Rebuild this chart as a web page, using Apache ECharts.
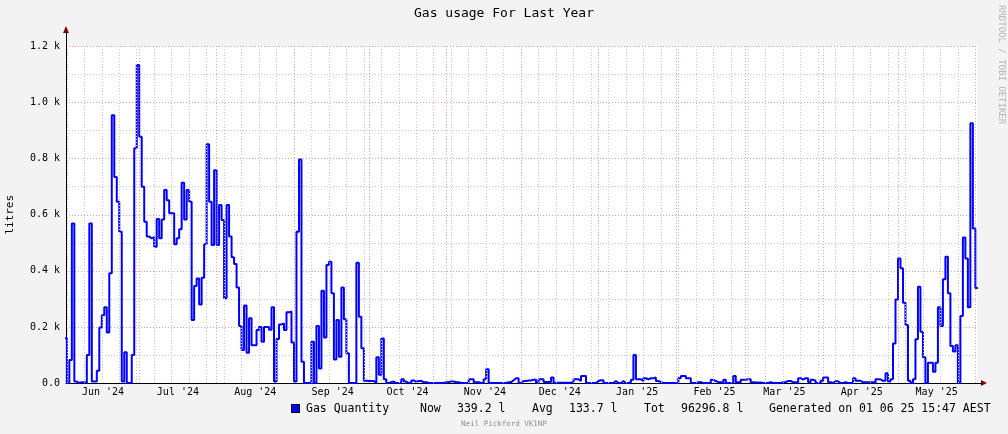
<!DOCTYPE html>
<html><head><meta charset="utf-8">
<script src="https://cdn.jsdelivr.net/npm/echarts@6/dist/echarts.min.js"></script>
<style>html,body{margin:0;padding:0;background:#f3f3f3;}#c{width:1008px;height:434px;}</style>
</head><body><div id="c"></div>
<script>
// Daily gas usage (litres), one value per day, day 0 = 1 Jun 2024
const jun24 = [160,0,82,569,5,0,3,3,0,100,569,5,5,44,198,242,270,180,391,955,735,646,539,5,110,0,0,100,837,1134];
const jul24 = [878,700,575,522,516,520,486,585,516,583,688,652,605,605,495,516,548,714,583,688,646,225,346,373,280,375,495,851,646,492,759];
const aug24 = [492,635,581,302,635,522,448,424,341,203,118,276,108,231,135,135,189,200,147,200,200,190,270,5,157,209,212,189,252,255,144];
const sep24 = [5,539,797,76,0,0,0,147,0,203,52,329,162,421,432,320,84,225,94,341,227,106,0,0,0,429,236,124,8,7];
const oct24 = [7,7,0,92,29,159,13,0,3,5,0,0,0,13,5,0,0,9,4,7,7,3,3,0,0,0,0,0,0,0,3];
const nov24 = [3,5,5,3,3,0,0,0,0,13,13,3,3,0,0,13,49,0,0,0,0,0,0,0,3,3,10,17,17,0];
const dec24 = [7,7,9,9,12,12,0,13,13,4,4,4,20,1,1,1,1,1,1,1,3,13,13,7,25,25,0,0,0,0,7];
const jan25 = [10,10,0,0,0,0,7,0,0,7,0,0,3,12,100,13,13,7,17,13,17,17,20,7,3,0,0,0,0,0,0];
const feb25 = [0,17,25,25,17,17,0,0,3,3,0,0,0,0,12,7,3,3,0,12,0,0,0,25,3,3,12,12];
const mar25 = [13,13,3,2,2,2,0,0,0,3,0,0,0,0,3,3,7,7,3,3,0,17,12,17,17,3,12,8,0,0,8];
const apr25 = [20,20,3,0,6,6,0,0,3,0,0,0,17,8,8,3,3,3,3,3,0,13,13,8,8,35,5,13,141,298];
const may25 = [444,409,286,207,8,0,13,156,343,183,92,0,72,72,40,72,270,203,370,450,320,132,112,135,0,239,519,444,270,926,551];
const jun25 = [339.2];

const monthStartDays = [0,30,61,92,122,153,183,214,245,273,304,334,365];
const monthLabels = ["Jun '24","Jul '24","Aug '24","Sep '24","Oct '24","Nov '24","Dec '24","Jan '25","Feb '25","Mar '25","Apr '25","May '25"];
const yTickLabels = ["0.0","0.2 k","0.4 k","0.6 k","0.8 k","1.0 k","1.2 k"];
const firstSunday = 1;
const viewStart = 0.658, viewEnd = 365.658;

const legendItems = [
  {t:"Gas Quantity", x:306},
  {t:"Now", x:420},
  {t:"339.2 l", x:457},
  {t:"Avg", x:532},
  {t:"133.7 l", x:569},
  {t:"Tot", x:644},
  {t:"96296.8 l", x:681},
  {t:"Generated on 01 06 25 15:47 AEST", x:769}
];

const allDays = [].concat(jun24,jul24,aug24,sep24,oct24,nov24,dec24,jan25,feb25,mar25,apr25,may25,jun25);
const pts = allDays.map((v,i)=>[i,v]);
pts.push([allDays.length, allDays[allDays.length-1]]);

const mono = "'DejaVu Sans Mono', monospace";
const gridLines = [];
for (let d = firstSunday; d <= 365; d += 7) {
  if (monthStartDays.indexOf(d) < 0) gridLines.push({xAxis:d, lineStyle:{color:'#c8c8c8', type:[1,2], width:1}});
}
monthStartDays.slice(1).forEach(d=>gridLines.push({xAxis:d, lineStyle:{color:'rgba(225,90,90,0.6)', type:[1,2], width:1}}));

const labelPos = monthStartDays.slice(0,12).map(d=>d+15.5);

const graphics = [
  {type:'rect', shape:{x:291.5,y:404.5,width:8,height:8}, style:{fill:'#0000ff', stroke:'#000', lineWidth:1}},
  ...legendItems.map(it=>({type:'text', x:it.x, y:409, style:{text:it.t, font:"11.5px 'DejaVu Sans Mono'", fill:'#000', textVerticalAlign:'middle'}})),
  {type:'text', x:504, y:424, style:{text:'Neil Pickford VK1NP', font:"7.5px 'DejaVu Sans Mono'", fill:'#909090', textAlign:'center', textVerticalAlign:'middle'}},
  {type:'text', x:1001, y:5, rotation:-Math.PI/2, style:{text:'RRDTOOL / TOBI OETIKER', font:"9px 'DejaVu Sans Mono'", fill:'#b4b4b4', textAlign:'left', textVerticalAlign:'middle'}},
  {type:'polygon', shape:{points:[[981,380],[987,383],[981,386]]}, style:{fill:'#8b0000'}},
  {type:'polygon', shape:{points:[[63,33],[66,26],[69,33]]}, style:{fill:'#8b0000'}},
  {type:'line', shape:{x1:977,y1:383.5,x2:982,y2:383.5}, style:{stroke:'#000',lineWidth:1}},
  {type:'line', shape:{x1:66.5,y1:46,x2:66.5,y2:32}, style:{stroke:'#000',lineWidth:1}}
];

const chart = echarts.init(document.getElementById('c'), null, {renderer:'canvas', width:1008, height:434});
chart.setOption({
  animation:false,
  backgroundColor:'#f3f3f3',
  title:{text:'Gas usage For Last Year', left:'center', top:7, padding:0, textStyle:{fontFamily:mono, fontSize:13, fontWeight:'normal', color:'#000'}},
  grid:{left:66, right:31, top:46.5, bottom:51, show:true, backgroundColor:'#ffffff', borderWidth:0, containLabel:false, outerBoundsMode:'none'},
  xAxis:{type:'value', min:viewStart, max:viewEnd,
    splitLine:{show:false}, axisTick:{show:false},
    axisLine:{show:true, onZero:false, lineStyle:{color:'#000', width:1}},
    axisLabel:{customValues:labelPos, formatter:(v)=>{const i=labelPos.findIndex(p=>Math.abs(p-v)<0.01);return i>=0?monthLabels[i]:'';},
      fontFamily:mono, fontSize:10, color:'#000', margin:4}},
  yAxis:{type:'value', min:0, max:1200, interval:200,
    name:'litres', nameLocation:'middle', nameGap:50, nameRotate:90,
    nameTextStyle:{fontFamily:mono, fontSize:11, color:'#000'},
    axisLine:{show:true, lineStyle:{color:'#000', width:1}}, axisTick:{show:false},
    axisLabel:{formatter:(v)=>yTickLabels[Math.round(v/200)], fontFamily:mono, fontSize:10, color:'#000', margin:6},
    splitLine:{show:true, lineStyle:{color:'rgba(225,90,90,0.6)', type:[1,2], width:1}},
    minorTick:{show:false, splitNumber:2},
    minorSplitLine:{show:true, lineStyle:{color:'#c8c8c8', type:[1,2], width:1}}},
  series:[
    {type:'line', z:1, data:[[viewStart,0]], symbol:'none', lineStyle:{opacity:0}, silent:true,
     markLine:{silent:true, symbol:['none','none'], label:{show:false}, data:gridLines, animation:false}},
    {type:'line', z:3, name:'Gas Quantity', data:pts, step:'end', symbol:'none', clip:true,
     lineStyle:{color:'#0000ff', width:2}, itemStyle:{color:'#0000ff'}}
  ],
  graphic:graphics
});
</script></body></html>
